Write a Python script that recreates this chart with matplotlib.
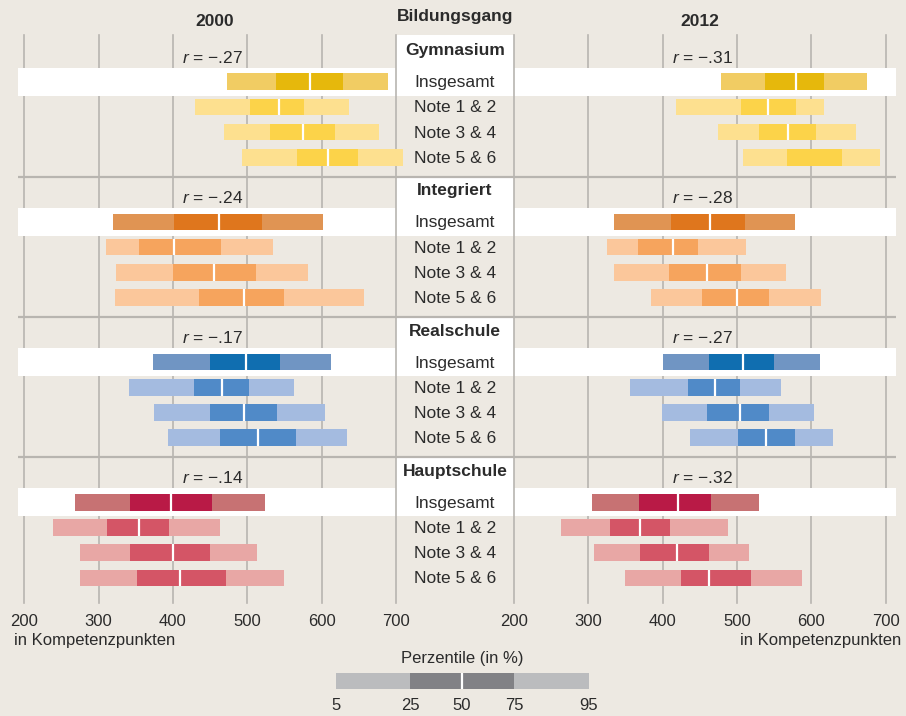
import matplotlib
matplotlib.use("Agg")
import matplotlib.pyplot as plt
from matplotlib import font_manager

# ---------------- data ----------------
years = ["2000", "2012"]
schools = ["Gymnasium", "Integriert", "Realschule", "Hauptschule"]
rows = ["Insgesamt", "Note 1 & 2", "Note 3 & 4", "Note 5 & 6"]
percentiles = ["5", "25", "50", "75", "95"]
r_2000 = ["\u2212.27", "\u2212.24", "\u2212.17", "\u2212.14"]
r_2012 = ["\u2212.31", "\u2212.28", "\u2212.27", "\u2212.32"]

# percentiles 5, 25, 50, 75, 95 per row (Insgesamt, Note 1&2, 3&4, 5&6)
gym_2000 = [[473, 539, 585, 629, 689], [430, 504, 543, 576, 637],
            [469, 531, 575, 618, 677], [493, 567, 608, 649, 709]]
gym_2012 = [[479, 538, 579, 617, 675], [418, 505, 541, 579, 617],
            [475, 530, 568, 606, 660], [508, 567, None, 641, 692]]
int_2000 = [[319, 401, 462, 520, 602], [310, 354, 401, 465, 535],
            [323, 400, 455, 512, 582], [322, 435, 495, 549, 657]]
int_2012 = [[335, 411, 463, 511, 578], [325, 367, 414, 448, 512],
            [335, 409, 459, 505, 566], [384, 453, 500, 543, 613]]
real_2000 = [[373, 450, 498, 544, 613], [341, 428, 466, 502, 563],
             [374, 450, 496, 540, 604], [393, 463, 515, 565, 634]]
real_2012 = [[400, 462, 508, 550, 612], [356, 434, 470, 504, 559],
             [399, 460, 504, 543, 604], [437, 501, 539, 578, 629]]
haupt_2000 = [[268, 342, 398, 453, 524], [239, 311, 355, 395, 463],
              [275, 342, 400, 450, 513], [275, 352, 410, 471, 549]]
haupt_2012 = [[305, 368, 420, 465, 530], [263, 329, 370, 410, 488],
              [308, 370, 419, 462, 516], [349, 425, 462, 519, 588]]
xticks = [200, 300, 400, 500, 600, 700]

data = {
    "2000": [gym_2000, int_2000, real_2000, haupt_2000],
    "2012": [gym_2012, int_2012, real_2012, haupt_2012],
}
rvals = {"2000": r_2000, "2012": r_2012}

# ---------------- style ----------------
names = {f.name for f in font_manager.fontManager.ttflist}
FONT = "Liberation Sans Narrow" if "Liberation Sans Narrow" in names else "Liberation Sans"
plt.rcParams["font.family"] = [FONT, "DejaVu Sans"]
plt.rcParams["mathtext.fontset"] = "custom"
plt.rcParams["mathtext.it"] = FONT + ":italic"
plt.rcParams["mathtext.rm"] = FONT

BG = "#ede9e2"
GRID = "#b8b5b0"
TXT = "#2b2b2b"
colors = [
    # ins_light, ins_dark, note_light, note_dark
    ("#f1cc63", "#e6b80c", "#fde08f", "#fcd349"),
    ("#e09453", "#df761d", "#fbc79b", "#f6a45d"),
    ("#7095c3", "#106eb0", "#a4bbe0", "#508ac8"),
    ("#c77273", "#b91a46", "#e8a7a5", "#d45566"),
]

W, H = 906, 716
fig = plt.figure(figsize=(W / 100, H / 100), dpi=100, facecolor=BG)

# layout (pixels)
GRID_TOP, GRID_BOT = 35, 603
INS0, GROUP_STEP, ROW_STEP = 81.7, 140.2, 25.2
BAR_H, BAND_HALF = 16.7, 14.0
LEFT_X0, LEFT_X1 = 18, 396
RIGHT_X0, RIGHT_X1 = 514, 896
PX_PER_UNIT = 0.7435


def ins_y(g):
    return INS0 + g * GROUP_STEP


def fig_rect(x0, x1, y0, y1):
    return [x0 / W, 1 - y1 / H, (x1 - x0) / W, (y1 - y0) / H]


# background axes in pixel units
bg = fig.add_axes([0, 0, 1, 1])
bg.set_xlim(0, W)
bg.set_ylim(H, 0)
bg.axis("off")

seps = [ins_y(g) - 45 for g in range(1, 4)]
tops = [GRID_TOP] + seps
for g in range(4):
    bg.add_patch(plt.Rectangle((LEFT_X1, tops[g]), RIGHT_X0 - LEFT_X1,
                               ins_y(g) + BAND_HALF - tops[g],
                               facecolor="white", edgecolor="none", zorder=1))
for s in seps:
    bg.hlines(s, LEFT_X0, RIGHT_X1, color=GRID, lw=1.6, zorder=2)

mid_x = (LEFT_X1 + RIGHT_X0) / 2
bg.text(mid_x, 17, "Bildungsgang", ha="center", va="center", fontsize=12.5,
        fontweight="bold", color=TXT)
for g, school in enumerate(schools):
    yi = ins_y(g)
    bg.text(mid_x, yi - 31, school, ha="center", va="center", fontsize=12.5,
            fontweight="bold", color=TXT)
    for k, row in enumerate(rows):
        bg.text(mid_x, yi + k * ROW_STEP + 1, row, ha="center", va="center",
                fontsize=12.5, color=TXT)

# panels
panels = [
    ("2000", LEFT_X0, LEFT_X1, (700 - (LEFT_X1 - LEFT_X0) / PX_PER_UNIT, 700)),
    ("2012", RIGHT_X0, RIGHT_X1, (200, 200 + (RIGHT_X1 - RIGHT_X0) / PX_PER_UNIT)),
]
for year, x0, x1, xl in panels:
    ax = fig.add_axes(fig_rect(x0, x1, GRID_TOP, GRID_BOT))
    ax.patch.set_visible(False)
    ax.set_xlim(*xl)
    ax.set_ylim(GRID_BOT, GRID_TOP)
    for s in ax.spines.values():
        s.set_visible(False)
    ax.set_yticks([])
    ax.set_xticks(xticks)
    ax.set_xticklabels([str(t) for t in xticks], fontsize=12, color=TXT)
    ax.tick_params(axis="x", length=0, pad=8)
    for t in xticks:
        edge = (year == "2000" and t == 700) or (year == "2012" and t == 200)
        ax.axvline(t, color=GRID, lw=1.2, zorder=3 if edge else 0.5,
                   clip_on=False)
    for g in range(4):
        yi = ins_y(g)
        ax.axhspan(yi - BAND_HALF, yi + BAND_HALF, color="white", zorder=1,
                   lw=0)
        il, idk, nl, nd = colors[g]
        for k, vals in enumerate(data[year][g]):
            y = yi + k * ROW_STEP
            light, dark = (il, idk) if k == 0 else (nl, nd)
            p5, p25, p50, p75, p95 = vals
            for lo, hi, c in ((p5, p25, light), (p25, p75, dark), (p75, p95, light)):
                ax.barh(y, hi - lo, left=lo, height=BAR_H, color=c, lw=0,
                        zorder=3.5, clip_on=False)
            if p50 is not None:
                ax.vlines(p50, y - BAR_H / 2, y + BAR_H / 2, color="white",
                          lw=1.6, zorder=3.6, clip_on=False)
        ax.text(453, yi - 24, r"$r$ = " + rvals[year][g], ha="center",
                va="center", fontsize=12.5, color=TXT)

bg.text(215, 22, "2000", ha="center", va="center",
        fontsize=12.5, fontweight="bold", color=TXT)
bg.text(700, 22, "2012", ha="center", va="center", fontsize=12.5,
        fontweight="bold", color=TXT)
bg.text(14, 641, "in Kompetenzpunkten", ha="left", va="center", fontsize=12,
        color=TXT)
bg.text(901, 641, "in Kompetenzpunkten", ha="right", va="center", fontsize=12,
        color=TXT)

# legend
leg_pos = [0, 74, 126, 178, 253]
LX0, LY0, LY1 = 336, 673, 689
lg = fig.add_axes(fig_rect(LX0, LX0 + leg_pos[-1], LY0, LY1))
lg.set_xlim(leg_pos[0], leg_pos[-1])
lg.set_ylim(0, 1)
lg.axis("off")
leg_cols = ["#bbbcbe", "#818185", "#818185", "#bbbcbe"]
for i in range(4):
    lg.barh(0.5, leg_pos[i + 1] - leg_pos[i], left=leg_pos[i], height=1,
            color=leg_cols[i], lw=0)
lg.vlines(leg_pos[2], 0, 1, color="white", lw=1.6)
for p, lab in zip(leg_pos, percentiles):
    bg.text(LX0 + p, 706, lab, ha="center", va="center", fontsize=12, color=TXT)
bg.text(LX0 + leg_pos[2], 659, "Perzentile (in %)", ha="center", va="center",
        fontsize=12, color=TXT)

fig.savefig("out.png", dpi=100, facecolor=BG)
